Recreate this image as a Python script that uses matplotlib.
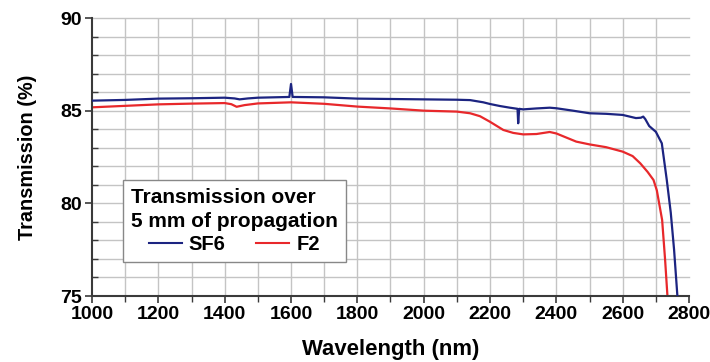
import matplotlib
matplotlib.use("Agg")
import matplotlib.pyplot as plt
import numpy as np
from matplotlib.lines import Line2D

plt.rcParams['font.family'] = ['Liberation Sans', 'DejaVu Sans']
plt.rcParams['font.weight'] = 'bold'

# SF6 (blue)
sf6_wl = [1000, 1100, 1200, 1300, 1400, 1430, 1445, 1470, 1500, 1595, 1600, 1605,
          1700, 1800, 1900, 2000, 2100, 2140, 2180, 2200, 2230, 2260, 2283, 2285,
          2288, 2300, 2340, 2380, 2400, 2450, 2500, 2550, 2600, 2640, 2655, 2662,
          2668, 2680, 2700, 2718, 2733, 2745, 2755, 2765]
sf6_t = [85.54, 85.58, 85.65, 85.67, 85.70, 85.66, 85.61, 85.66, 85.70, 85.74, 86.44, 85.74,
         85.72, 85.65, 85.63, 85.61, 85.59, 85.57, 85.45, 85.36, 85.25, 85.16, 85.10, 84.32,
         85.10, 85.07, 85.12, 85.16, 85.13, 85.00, 84.86, 84.83, 84.77, 84.60, 84.62, 84.68,
         84.55, 84.17, 83.86, 83.24, 81.26, 79.50, 77.50, 75.00]

# F2 (red)
f2_wl = [1000, 1100, 1200, 1300, 1400, 1420, 1436, 1460, 1500, 1600, 1700, 1800,
         1900, 2000, 2100, 2140, 2170, 2200, 2240, 2270, 2300, 2340, 2380, 2400,
         2430, 2460, 2500, 2550, 2600, 2630, 2653, 2675, 2693, 2703, 2719, 2728, 2735]
f2_t = [85.18, 85.26, 85.34, 85.38, 85.41, 85.35, 85.21, 85.30, 85.39, 85.45, 85.37, 85.22,
        85.12, 85.00, 84.95, 84.86, 84.70, 84.40, 83.96, 83.80, 83.72, 83.74, 83.85, 83.77,
        83.55, 83.33, 83.18, 83.03, 82.79, 82.55, 82.16, 81.70, 81.26, 80.70, 79.10, 76.94, 75.00]

x_ticks = [1000, 1200, 1400, 1600, 1800, 2000, 2200, 2400, 2600, 2800]
y_ticks = [75, 80, 85, 90]
series_names = ["SF6", "F2"]
legend_title = "Transmission over\n5 mm of propagation"

blue = "#1c2481"
red = "#e8282b"
grid_c = "#c4c4c4"

fig = plt.figure(figsize=(7.1, 3.62), dpi=100)
ax = fig.add_axes([92/710, 1-296/362, (689-92)/710, (296-18)/362])

ax.set_xlim(1000, 2800)
ax.set_ylim(75, 90)

# grid
for gx in np.arange(1100, 2800, 100):
    ax.axvline(gx, color=grid_c, lw=1.0, zorder=0)
for gy in np.arange(76, 91, 1):
    ax.axhline(gy, color=grid_c, lw=1.0, zorder=0, clip_on=False)

ax.plot(sf6_wl, sf6_t, color=blue, lw=1.6, zorder=3)
ax.plot(f2_wl, f2_t, color=red, lw=1.6, zorder=2)

for s in ['top', 'right']:
    ax.spines[s].set_visible(False)
for s in ['left', 'bottom']:
    ax.spines[s].set_color('#3a3a3a')
    ax.spines[s].set_linewidth(1.5)

ax.set_xticks(x_ticks)
ax.set_xticks(np.arange(1100, 2800, 200), minor=True)
ax.set_yticks(y_ticks)
ax.set_yticks(np.arange(75, 91, 1), minor=True)
ax.tick_params(axis='both', which='major', length=5, width=1.2, color='#3a3a3a',
               labelsize=14, direction='out', pad=2)
ax.tick_params(axis='y', which='minor', length=4, width=1.0, color='#3a3a3a', direction='in')
ax.tick_params(axis='x', which='minor', length=4, width=1.0, color='#3a3a3a', direction='out')
for lab in ax.get_xticklabels() + ax.get_yticklabels():
    lab.set_fontweight('bold')

ax.set_xlabel("Wavelength (nm)", fontsize=15.9, fontweight='bold', labelpad=12)
ax.set_ylabel("Transmission (%)", fontsize=14.3, fontweight='bold', labelpad=17)

handles = [Line2D([], [], color=blue, lw=1.5), Line2D([], [], color=red, lw=1.5)]
leg = ax.legend(handles, series_names, ncol=2, title=legend_title,
                loc='upper left', bbox_to_anchor=(0.0514, 0.417),
                frameon=True, fancybox=False, framealpha=1, edgecolor='#888888',
                prop={'weight': 'bold', 'size': 14.5},
                title_fontproperties={'weight': 'bold', 'size': 15},
                handlelength=1.65, handletextpad=0.35, columnspacing=1.5,
                borderpad=0.4, labelspacing=0.2, borderaxespad=0)
leg.get_title().set_linespacing(1.35)
leg.get_frame().set_linewidth(1.0)
leg.set_zorder(5)

fig.savefig("out.png", dpi=100)
